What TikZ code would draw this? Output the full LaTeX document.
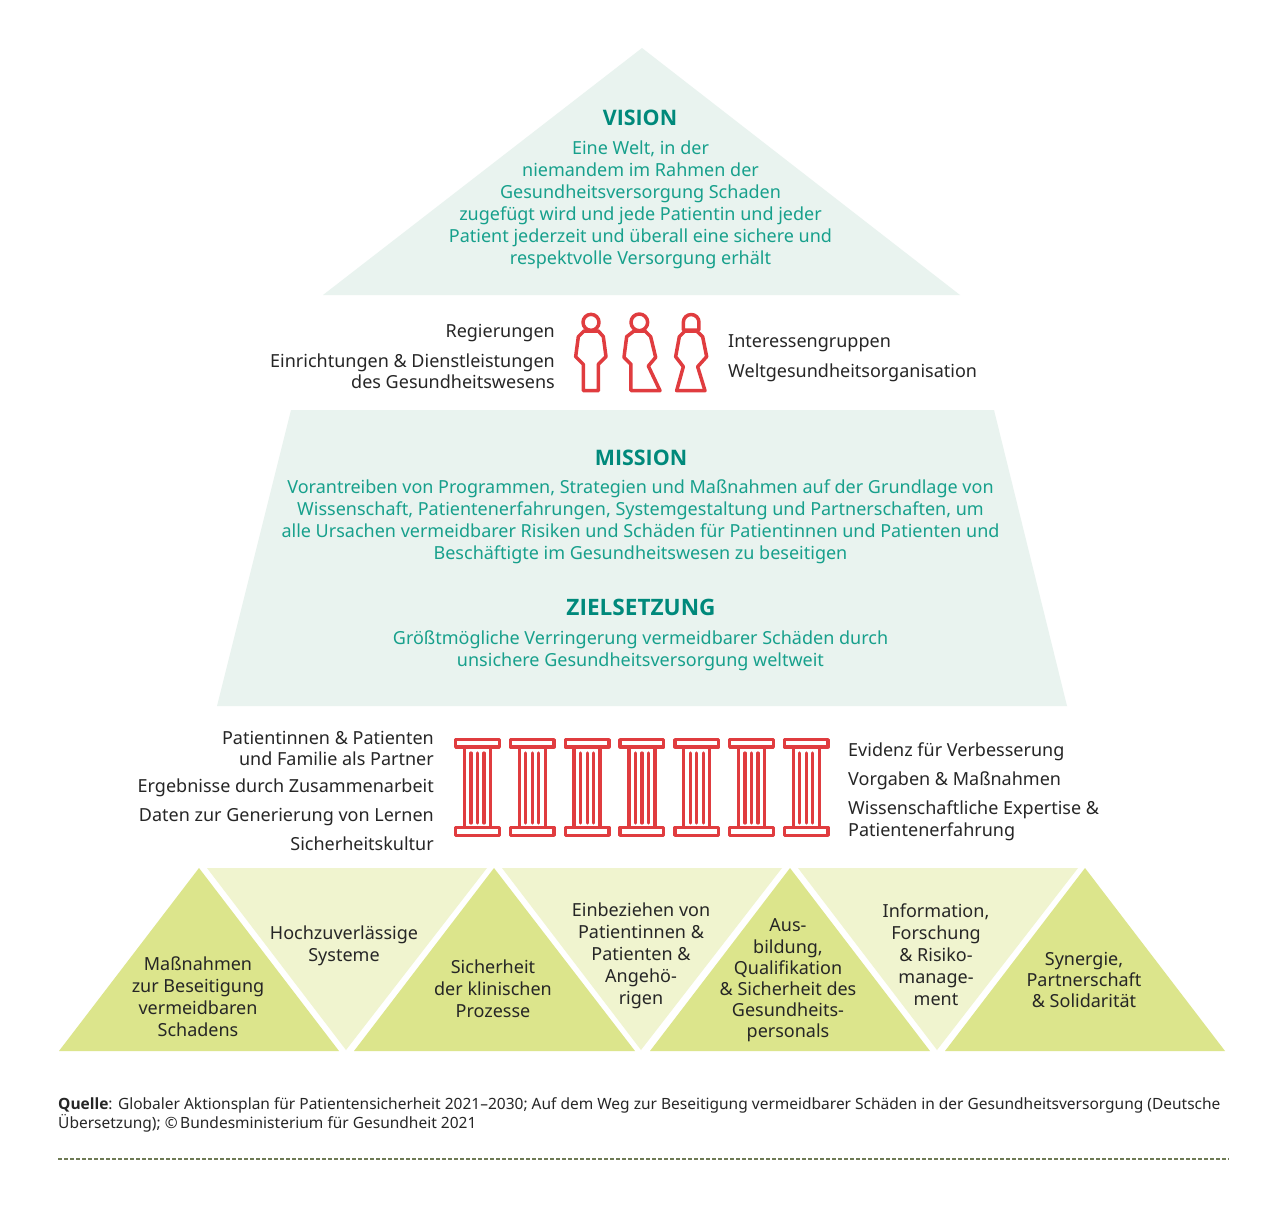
\documentclass[tikz,border=0pt]{standalone}
\usepackage{fontspec}
\setmainfont{Noto Sans}
\newfontfamily\headfont{Open Sans}[BoldFont={Open Sans Bold}]
\definecolor{palemint}{HTML}{E9F3EF}
\definecolor{tealtext}{HTML}{17A08C}
\definecolor{tealhead}{HTML}{00897B}
\definecolor{oliveA}{HTML}{DCE58C}
\definecolor{oliveB}{HTML}{F0F4CF}
\definecolor{iconred}{HTML}{E03C3F}
\definecolor{inktext}{HTML}{262626}
\definecolor{rulecol}{HTML}{6E7A55}
\tikzset{
  x=1pt,y=-1pt,
  lbl/.style={inner sep=0pt,text=inktext,font=\fontsize{18}{22}\selectfont},
  lbltight/.style={font=\fontsize{18}{21}\selectfont},
  lblc/.style={lbl,align=center},
  lblr/.style={lbl,align=right,anchor=east},
  lbll/.style={lbl,align=left,anchor=west},
  tealt/.style={inner sep=0pt,align=center,text=tealtext,font=\fontsize{18}{22}\selectfont},
  head/.style={inner sep=0pt,text=tealhead,font=\headfont\fontsize{21.4}{24}\selectfont\bfseries},
  icon/.style={draw=iconred,line width=3.5pt,line join=round},
  flute/.style={draw=iconred,line width=3.2pt,line cap=round},
}
\newcommand{\pillar}[1]{%
  \begin{scope}[xshift=#1pt]
    \draw[icon] (455.7,739.7) rectangle (499.3,746.8);
    \draw[icon] (455.7,827.6) rectangle (499.3,835.3);
    \draw[icon] (464.5,746.8) -- (464.5,827.6) (490.5,746.8) -- (490.5,827.6);
    \draw[flute] (471,753) -- (471,823) (477.5,753) -- (477.5,823) (484,753) -- (484,823);
  \end{scope}}
\begin{document}
\begin{tikzpicture}
\useasboundingbox (0,0) rectangle (1280,1219);
\fill[white] (0,0) rectangle (1280,1219);
% large shapes
\fill[palemint] (642,48) -- (960,295) -- (323,295) -- cycle;
\fill[palemint] (291,410) -- (994,410) -- (1067,706) -- (217,706) -- cycle;
% base triangles
\fill[oliveB] (207,868) -- (487,868) -- (346,1050) -- cycle;
\fill[oliveB] (502,868) -- (782,868) -- (641,1050) -- cycle;
\fill[oliveB] (798,868) -- (1078,868) -- (937,1050) -- cycle;
\fill[oliveA] (199,868) -- (339,1051) -- (59,1051) -- cycle;
\fill[oliveA] (494,868) -- (635,1051) -- (354,1051) -- cycle;
\fill[oliveA] (790,868) -- (930,1051) -- (650,1051) -- cycle;
\fill[oliveA] (1085,868) -- (1225,1051) -- (945,1051) -- cycle;
% vision
\node[head] (vision) at (640,117.5) {VISION};
\node[tealt] (visiontext) at (640.5,205) {Eine Welt, in der\\niemandem im Rahmen der\\Gesundheitsversorgung Schaden\\zugefügt wird und jede Patientin und jeder\\Patient jederzeit und überall eine sichere und\\respektvolle Versorgung erhält};
% people
\node[lblr] (reg) at (555,333) {Regierungen};
\node[lblr,lbltight] (ein) at (555,371) {Einrichtungen \& Dienstleistungen\\des Gesundheitswesens};
\node[lbll] (int) at (728,343) {Interessengruppen};
\node[lbll] (who) at (728,372.5) {Weltgesundheitsorganisation};
\begin{scope}[shift={(560,305)},x=0.3333pt,y=-0.3333pt]
\draw[icon] (93,52) circle (24);
\draw[icon] (72,78) -- (115,78) -- (130,95) -- (138,155) -- (115,178) -- (115,257) -- (70,257) -- (70,178) -- (47,155) -- (55,95) -- cycle;
\draw[icon] (238,52) circle (25);
\draw[icon] (222,78) -- (255,78) -- (272,95) -- (287,157) -- (265,183) -- (300,257) -- (213,257) -- (213,178) -- (192,157) -- (200,95) -- cycle;
\draw[icon] (370,75) -- (370,52) arc[start angle=180,end angle=360,radius=23.5] -- (417,75) -- cycle;
\draw[icon] (375,78) -- (410,78) -- (428,95) -- (440,155) -- (413,185) -- (435,257) -- (350,257) -- (370,185) -- (347,155) -- (358,95) -- cycle;
\end{scope}
% mission
\node[head] (mission) at (641,457.5) {MISSION};
\node[tealt] (missiontext) at (640.5,522) {Vorantreiben von Programmen, Strategien und Maßnahmen auf der Grundlage von\\Wissenschaft, Patientenerfahrungen, Systemgestaltung und Partnerschaften, um\\alle Ursachen vermeidbarer Risiken und Schäden für Patientinnen und Patienten und\\Beschäftigte im Gesundheitswesen zu beseitigen};
\node[head,font=\headfont\fontsize{22.6}{24}\selectfont\bfseries] (ziel) at (641,607.5) {ZIELSETZUNG};
\node[tealt] (zieltext) at (640.5,650.5) {Größtmögliche Verringerung vermeidbarer Schäden durch\\unsichere Gesundheitsversorgung weltweit};
% pillars labels
\node[lblr,lbltight] (pa) at (434,748.5) {Patientinnen \& Patienten\\und Familie als Partner};
\node[lblr] (er) at (434,788) {Ergebnisse durch Zusammenarbeit};
\node[lblr] (da) at (434,817) {Daten zur Generierung von Lernen};
\node[lblr] (si) at (434,843.5) {Sicherheitskultur};
\node[lbll] (ev) at (848,752) {Evidenz für Verbesserung};
\node[lbll] (vo) at (848,781) {Vorgaben \& Maßnahmen};
\node[lbll] (wi) at (848,821) {Wissenschaftliche Expertise \&\\Patientenerfahrung};
\pillar{0}\pillar{54.8}\pillar{109.6}\pillar{164.4}\pillar{219.2}\pillar{274}\pillar{328.8}
% base text
\node[lblc] (t1) at (198,997) {Maßnahmen\\zur Beseitigung\\vermeidbaren\\Schadens};
\node[lblc] (t2) at (344,945.5) {Hochzuverlässige\\Systeme};
\node[lblc] (t3) at (493,988.5) {Sicherheit\\der klinischen\\Prozesse};
\node[lblc] (t4) at (641,955.5) {Einbeziehen von\\Patientinnen \&\\Patienten \&\\Angehö-\\rigen};
\node[lblc,font=\fontsize{18}{21.2}\selectfont] (t5) at (788,980.5) {Aus-\\bildung,\\Qualifikation\\\& Sicherheit des\\Gesundheits-\\personals};
\node[lblc] (t6) at (936,955) {Information,\\Forschung\\\& Risiko-\\manage-\\ment};
\node[lblc,lbltight] (t7) at (1084,980) {Synergie,\\Partnerschaft\\\& Solidarität};
% footer
\node[inner sep=0pt,anchor=west,align=left,text=inktext,font=\fontsize{15.5}{19}\selectfont] (src) at (58,1115) {{\headfont\bfseries Quelle}: Globaler Aktionsplan für Patientensicherheit 2021–2030; Auf dem Weg zur Beseitigung vermeidbarer Schäden in der Gesundheitsversorgung (Deutsche\\Übersetzung); ©\,Bundesministerium für Gesundheit 2021};
\coordinate (ruleA) at (58,1159);
\coordinate (ruleB) at (1229,1159);
\draw[rulecol,line width=1.1pt,dash pattern=on 4pt off 2pt] (ruleA) -- (ruleB);
\end{tikzpicture}
\end{document}
